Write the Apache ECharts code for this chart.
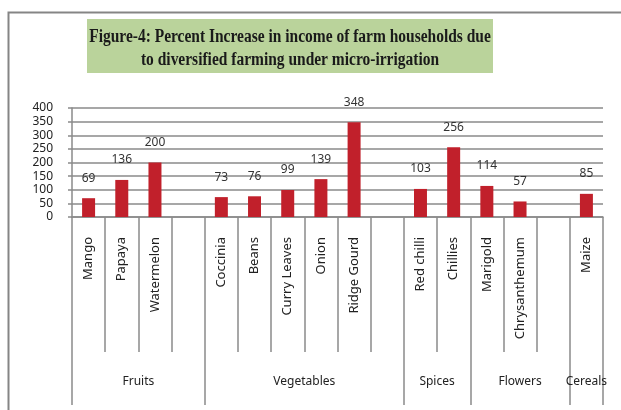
<!DOCTYPE html>
<html>
<head>
<meta charset="utf-8">
<script src="https://cdn.jsdelivr.net/npm/echarts@6/dist/echarts.min.js"></script>
<style>
  html, body {margin: 0; padding: 0; background: #fff;}
  #chart {width: 621px; height: 410px;}
</style>
</head>
<body>
<div id="chart"></div>
<script>
// 作物（空字符串为组间空位）
const crops = ['Mango', 'Papaya', 'Watermelon', '',
  'Coccinia', 'Beans', 'Curry Leaves', 'Onion', 'Ridge Gourd', '',
  'Red chilli', 'Chillies', 'Marigold', 'Chrysanthemum', '', 'Maize'];
const increase = [69, 136, 200, null, 73, 76, 99, 139, 348, null, 103, 256, 114, 57, null, 85];
// 分组
const groups = ['Fruits', 'Vegetables', 'Spices', 'Flowers', 'Cereals'];
const groupStart = [0, 4, 10, 12, 15];
const groupEnd = [4, 10, 12, 15, 16];
const yTicks = [0, 50, 100, 150, 200, 250, 300, 350, 400];

const gray = '#8a8a8a';
const myChart = echarts.init(document.getElementById('chart'));

const groupCenters = groups.map((g, i) => (groupStart[i] + groupEnd[i]) / 2);

myChart.setOption({
  animation: false,
  textStyle: {fontFamily: 'Noto Sans'},
  grid: {left: 72, right: 18, top: 108, bottom: 193},
  graphic: [
    // 外框
    {type: 'rect', shape: {x: 8.5, y: 12.5, width: 700, height: 500}, style: {fill: 'none', stroke: '#858585', lineWidth: 2}, silent: true},
    // 标题底色
    {type: 'rect', shape: {x: 87, y: 19, width: 406, height: 54}, style: {fill: '#bad39b'}, silent: true},
    {
      type: 'text', x: 290, y: 37, scaleX: 0.86,
      style: {
        text: 'Figure-4: Percent Increase in income of farm households due',
        font: 'bold 18px "Liberation Serif"', fill: '#1a1a1a', align: 'center', verticalAlign: 'middle'
      }
    },
    {
      type: 'text', x: 290, y: 60, scaleX: 0.86,
      style: {
        text: 'to diversified farming under micro-irrigation',
        font: 'bold 18px "Liberation Serif"', fill: '#1a1a1a', align: 'center', verticalAlign: 'middle'
      }
    }
  ],
  xAxis: [
    {
      type: 'category',
      data: crops,
      axisLine: {lineStyle: {color: gray, width: 1.5}},
      axisTick: {show: true, interval: 0, length: 135, lineStyle: {color: gray, width: 1.5}},
      axisLabel: {interval: 0, rotate: 90, margin: 20, color: '#222', fontSize: 13}
    },
    {
      type: 'value',
      min: 0,
      max: crops.length,
      position: 'bottom',
      offset: 135,
      splitLine: {show: false},
      axisLine: {show: false},
      axisTick: {
        show: true, length: 53,
        customValues: [0].concat(groupEnd),
        lineStyle: {color: gray, width: 1.5}
      },
      axisLabel: {
        show: true, margin: 24, color: '#222', fontSize: 12,
        customValues: groupCenters,
        formatter: v => groups[groupCenters.indexOf(v)] || ''
      }
    }
  ],
  yAxis: {
    type: 'value',
    min: 0,
    max: 400,
    interval: 50,
    axisLine: {show: true, lineStyle: {color: gray, width: 1.5}},
    axisTick: {show: true, length: 4, lineStyle: {color: gray, width: 1.5}},
    axisLabel: {margin: 19, color: '#222', fontSize: 12, customValues: yTicks},
    splitLine: {lineStyle: {color: gray, width: 1.5}}
  },
  series: [{
    type: 'bar',
    xAxisIndex: 0,
    data: increase,
    barWidth: 13,
    itemStyle: {color: '#c1202b'},
    label: {show: true, position: 'top', distance: 14, color: '#333', fontSize: 12}
  }]
});
</script>
</body>
</html>
